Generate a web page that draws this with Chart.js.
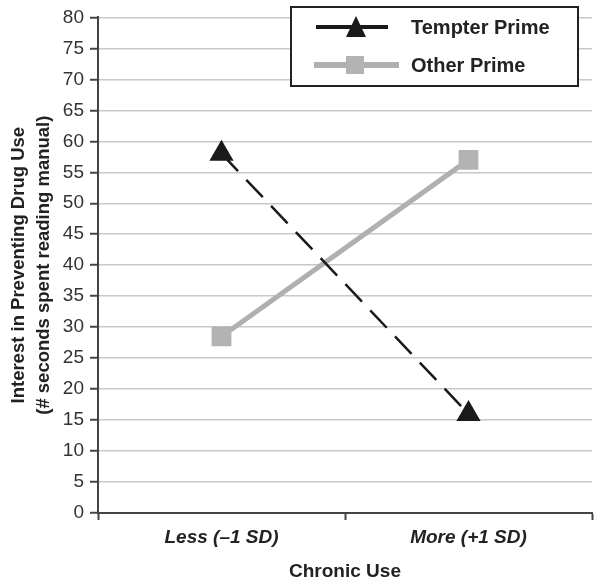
<!DOCTYPE html>
<html>
<head>
<meta charset="utf-8">
<script src="https://cdn.jsdelivr.net/npm/chart.js@4"></script>
<style>
  html, body { margin: 0; padding: 0; background: #fff; }
  #wrap { width: 600px; height: 587px; position: relative; }
</style>
</head>
<body>
<div id="wrap"><canvas id="drugChart" width="600" height="587"></canvas></div>
<script>
const categories = ['Less (\u20131 SD)', 'More (+1 SD)'];
const tempterPrime = [58, 16];
const otherPrime = [28.5, 57];
const yTicks = [0, 5, 10, 15, 20, 25, 30, 35, 40, 45, 50, 55, 60, 65, 70, 75, 80];

const FONT = "'Liberation Sans', Arial, Helvetica, sans-serif";

// boxed legend in the top right corner, like the original figure
const boxLegend = {
    id: 'boxLegend',
    afterDraw(chart) {
        const c = chart.ctx;
        const x = 291, y = 7, w = 287, h = 79;
        c.save();
        c.fillStyle = '#fff';
        c.fillRect(x, y, w, h);
        c.strokeStyle = '#222';
        c.lineWidth = 2;
        c.strokeRect(x, y, w, h);
        chart.data.datasets.forEach((ds, i) => {
            const cy = 27 + i * 38;
            c.setLineDash([]);
            c.strokeStyle = ds.borderColor;
            c.lineWidth = i === 0 ? 4 : 6;
            c.beginPath();
            c.moveTo(i === 0 ? 316 : 314, cy);
            c.lineTo(i === 0 ? 388 : 399, cy);
            c.stroke();
            c.fillStyle = ds.pointBackgroundColor;
            if (ds.pointStyle === 'triangle') {
                c.beginPath();
                c.moveTo(356, cy - 11);
                c.lineTo(366, cy + 10);
                c.lineTo(346, cy + 10);
                c.closePath();
                c.fill();
            } else {
                c.fillRect(346, cy - 9, 18, 18);
            }
            c.fillStyle = '#222';
            c.font = 'bold 20px ' + FONT;
            c.textBaseline = 'middle';
            c.fillText(ds.label, 411, cy + 1);
        });
        c.restore();
    }
};

const ctx = document.getElementById('drugChart').getContext('2d');

new Chart(ctx, {
    type: 'line',
    data: {
        labels: categories,
        datasets: [{
            label: 'Tempter Prime',
            data: tempterPrime,
            borderColor: '#1a1a1a',
            backgroundColor: '#1a1a1a',
            borderWidth: 2.5,
            borderDash: [24, 12],
            pointStyle: 'triangle',
            pointRadius: 14,
            pointBackgroundColor: '#1a1a1a',
            pointBorderWidth: 0,
            tension: 0
        }, {
            label: 'Other Prime',
            data: otherPrime,
            borderColor: '#b0b0b0',
            backgroundColor: '#b0b0b0',
            borderWidth: 5,
            pointStyle: 'rect',
            pointRadius: 14,
            pointBackgroundColor: '#b3b3b3',
            pointBorderWidth: 0,
            tension: 0
        }]
    },
    options: {
        responsive: false,
        animation: false,
        layout: { autoPadding: false, padding: { top: 15, right: 8, left: 0, bottom: 0 } },
        plugins: {
            legend: { display: false },
            tooltip: { enabled: false }
        },
        scales: {
            x: {
                offset: true,
                afterFit(scale) {
                    scale.height = 74;
                    scale.paddingLeft = 0;
                    scale.paddingRight = 0;
                },
                border: { color: '#444', width: 2 },
                grid: {
                    offset: true,
                    drawOnChartArea: false,
                    tickLength: 7,
                    tickColor: '#444',
                    tickWidth: 2
                },
                ticks: {
                    color: '#222',
                    padding: 6,
                    font: { family: FONT, size: 19, weight: 'bold', style: 'italic' }
                },
                title: {
                    display: true,
                    text: 'Chronic Use',
                    color: '#222',
                    padding: { top: 8 },
                    font: { family: FONT, size: 19, weight: 'bold' }
                }
            },
            y: {
                min: 0,
                max: 80,
                afterFit(scale) { scale.width = 98; },
                afterBuildTicks(scale) { scale.ticks = yTicks.map(v => ({ value: v })); },
                border: { color: '#444', width: 2 },
                grid: {
                    color: '#c8c8c8',
                    lineWidth: 1.5,
                    tickLength: 8,
                    tickColor: '#444',
                    tickWidth: 2
                },
                ticks: {
                    color: '#333',
                    padding: 6,
                    font: { family: FONT, size: 19 }
                },
                title: {
                    display: true,
                    text: ['Interest in Preventing Drug Use', '(# seconds spent reading manual)'],
                    color: '#222',
                    padding: { top: 6, bottom: 2 },
                    font: { family: FONT, size: 18.5, weight: 'bold', lineHeight: 1.35 }
                }
            }
        }
    },
    plugins: [boxLegend]
});
</script>
</body>
</html>
